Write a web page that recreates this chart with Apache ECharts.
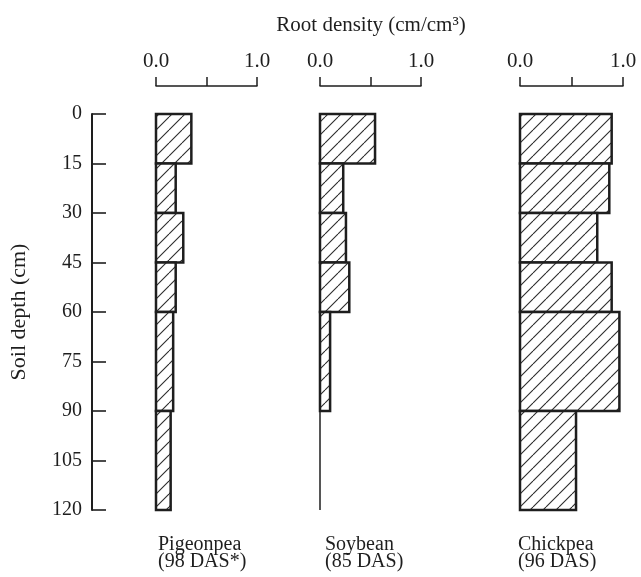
<!DOCTYPE html>
<html>
<head>
<meta charset="utf-8">
<script src="https://cdn.jsdelivr.net/npm/echarts@6/dist/echarts.min.js"></script>
<style>
html,body{margin:0;padding:0;background:#fff;}
#main{width:641px;height:577px;}
</style>
</head>
<body>
<div id="main"></div>
<script>
// ---- data ----
const depthTop = [0, 15, 30, 45, 60, 90];
const depthBottom = [15, 30, 45, 60, 90, 120];
const pigeonpea = [0.35, 0.195, 0.27, 0.195, 0.17, 0.145];
const soybean = [0.545, 0.23, 0.257, 0.29, 0.10, 0];
const chickpea = [0.89, 0.867, 0.75, 0.89, 0.965, 0.544];
const cropNames = ['Pigeonpea', 'Soybean', 'Chickpea'];
const cropDAS = ['(98 DAS*)', '(85 DAS)', '(96 DAS)'];
const xTickLabels = ['0.0', '1.0'];
const axisTitleX = 'Root density (cm/cm\u00b3)';
const axisTitleY = 'Soil depth (cm)';

const FONT = '"Liberation Serif", "DejaVu Serif", serif';
const INK = '#1e1e1e';

const grids = [
  { left: 92, top: 114, width: 10, height: 396 },
  { left: 156, top: 114, width: 101, height: 396 },
  { left: 320, top: 114, width: 101, height: 396 },
  { left: 520, top: 114, width: 103, height: 396 }
];

// hatch pattern tile
function makeHatch(s) {
  const c = document.createElement('canvas');
  c.width = s; c.height = s;
  const g = c.getContext('2d');
  g.fillStyle = '#fff';
  g.fillRect(0, 0, s, s);
  g.strokeStyle = '#2a2a2a';
  g.lineWidth = 1.1;
  for (let k = -1; k <= 1; k++) {
    g.beginPath();
    g.moveTo(k * s, s);
    g.lineTo(k * s + s, 0);
    g.stroke();
  }
  return c;
}
const hatch = { image: makeHatch(13), repeat: 'repeat' };

const crops = [pigeonpea, soybean, chickpea];
function seriesData(vals) {
  return vals.map((v, i) => [v, depthTop[i], depthBottom[i]]);
}

const xAxes = [{ gridIndex: 0, type: 'value', show: false, min: 0, max: 1 }];
for (let i = 1; i <= 3; i++) {
  xAxes.push({
    gridIndex: i, type: 'value', position: 'top', offset: 28,
    min: 0, max: 1, interval: 0.5,
    axisLine: { show: true, onZero: false, lineStyle: { color: INK, width: 1.5 } },
    axisTick: { show: true, inside: false, length: 9, lineStyle: { color: INK, width: 1.5 } },
    axisLabel: {
      margin: 14, fontFamily: FONT, fontSize: 21, color: INK,
      formatter: function (v) { return v === 0 ? xTickLabels[0] : (v === 1 ? xTickLabels[1] : ''); }
    },
    splitLine: { show: false }
  });
}

const yAxes = [{
  gridIndex: 0, type: 'value', inverse: true, min: 0, max: 120, interval: 15, position: 'left',
  name: axisTitleY, nameLocation: 'middle', nameGap: 62,
  nameTextStyle: { fontFamily: FONT, fontSize: 22, color: INK },
  axisLine: { show: true, onZero: false, lineStyle: { color: INK, width: 2 } },
  axisTick: { show: true, inside: true, length: 14, lineStyle: { color: INK, width: 1.6 } },
  axisLabel: { margin: 10, fontFamily: FONT, fontSize: 20, color: INK },
  splitLine: { show: false }
}];
for (let i = 1; i <= 3; i++) {
  yAxes.push({
    gridIndex: i, type: 'value', inverse: true, min: 0, max: 120, interval: 15,
    show: false, splitLine: { show: false }
  });
}

const series = crops.map((vals, idx) => ({
  type: 'custom',
  xAxisIndex: idx + 1, yAxisIndex: idx + 1,
  data: seriesData(vals),
  encode: { x: 0, y: [1, 2] },
  renderItem: function (params, api) {
    const v = api.value(0);
    const p0 = api.coord([0, api.value(1)]);
    const p1 = api.coord([v, api.value(2)]);
    if (!(v > 0)) {
      return {
        type: 'line',
        shape: { x1: p0[0], y1: p0[1], x2: p0[0], y2: p1[1] },
        style: { stroke: INK, lineWidth: 1.5 }
      };
    }
    return {
      type: 'rect',
      shape: { x: p0[0], y: p0[1], width: p1[0] - p0[0], height: p1[1] - p0[1] },
      style: { fill: hatch, stroke: INK, lineWidth: 2.5 }
    };
  }
}));

const labelX = [158, 325, 518];
const graphics = [{
  type: 'text', x: 371, y: 25,
  style: { text: axisTitleX, font: '21px ' + FONT, fill: INK, align: 'center', verticalAlign: 'middle' }
}];
cropNames.forEach((n, i) => {
  graphics.push({
    type: 'text', x: labelX[i], y: 536,
    style: { text: n + '\n' + cropDAS[i], font: '20px ' + FONT, fill: INK, lineHeight: 17, align: 'left', verticalAlign: 'top' }
  });
});

const chart = echarts.init(document.getElementById('main'));
chart.setOption({
  animation: false,
  backgroundColor: '#fff',
  grid: grids,
  xAxis: xAxes,
  yAxis: yAxes,
  series: series,
  graphic: graphics
});
</script>
</body>
</html>
